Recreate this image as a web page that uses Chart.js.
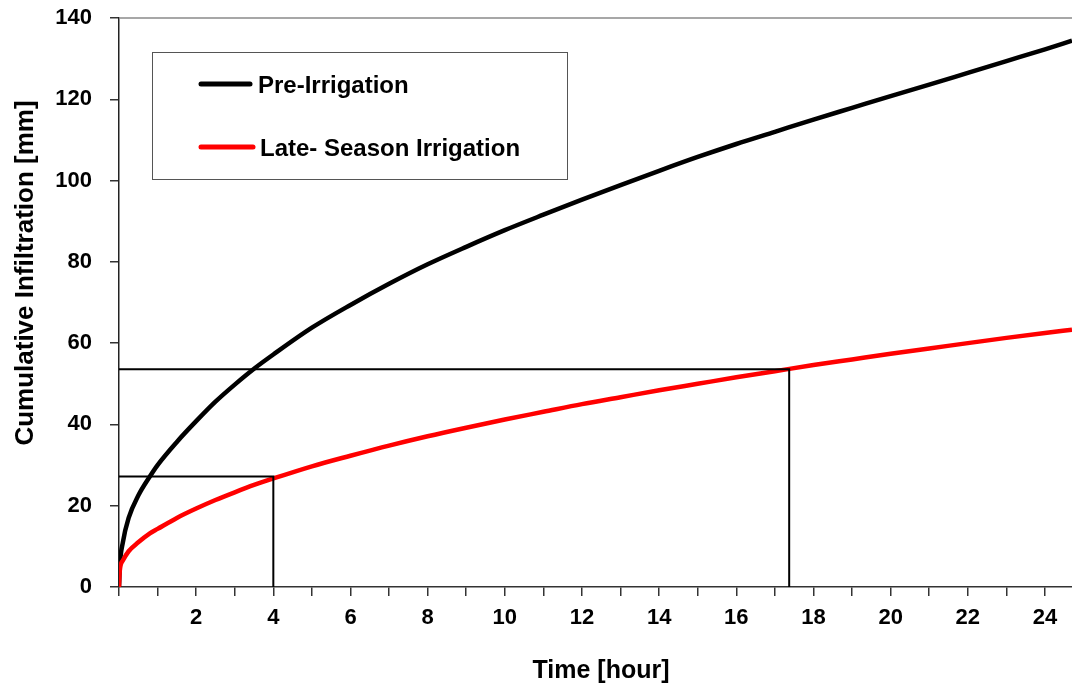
<!DOCTYPE html>
<html>
<head>
<meta charset="utf-8">
<script src="https://cdn.jsdelivr.net/npm/chart.js@4"></script>
<style>
  html, body { margin: 0; padding: 0; background: #fff; }
  #chart { display: block; }
</style>
</head>
<body>
<canvas id="chart" width="1072" height="685"></canvas>
<script>
// time axis (hours) shared by both curves
const timeHours = [0, 0.02, 0.1, 0.25, 0.5, 0.8, 1, 1.5, 2, 2.5, 3, 3.5, 4, 5, 6, 7, 8, 9, 10, 11, 12,
  13, 14, 15, 16, 17, 18, 19, 20, 21, 22, 23, 24, 24.7];
// cumulative infiltration [mm]
const preIrrigation = [0, 5, 11, 17, 22.5, 27.2, 30, 35.7, 40.8, 45.6, 49.8, 53.7, 57.2, 63.8, 69.4, 74.6,
  79.4, 83.7, 87.8, 91.6, 95.3, 98.9, 102.4, 105.8, 109, 112, 115, 117.9, 120.8, 123.6, 126.5, 129.4, 132.3, 134.4];
const lateSeason = [0, 4, 6.5, 8.8, 11, 13.2, 14.3, 17, 19.3, 21.4, 23.3, 25.1, 26.7, 29.7, 32.3, 34.8,
  37.1, 39.2, 41.2, 43.1, 45, 46.7, 48.4, 50, 51.6, 53.1, 54.6, 56, 57.4, 58.7, 60, 61.3, 62.5, 63.3];

// guide lines from the figure
const guideEarly = [[0, 27.2], [4, 27.2], [4, 0]];
const guideLate = [[0, 53.6], [17.37, 53.6], [17.37, 0]];

const yTicks = [0, 20, 40, 60, 80, 100, 120, 140];
const xLabelTicks = [2, 4, 6, 8, 10, 12, 14, 16, 18, 20, 22, 24];

const seriesNames = ["Pre-Irrigation", "Late- Season Irrigation"];
const seriesColors = ["#000000", "#ff0000"];

const toPoints = (xs, ys) => xs.map((x, i) => ({ x, y: ys[i] }));
const pairPoints = (pairs) => pairs.map(([x, y]) => ({ x, y }));

Chart.defaults.font.family = "'Liberation Sans', Arial, sans-serif";
Chart.defaults.color = "#000";

const FONT = "'Liberation Sans', Arial, sans-serif";

const decorPlugin = {
  id: "decor",
  afterDraw(chart) {
    const { ctx, chartArea } = chart;
    ctx.save();

    // top frame line
    ctx.strokeStyle = "#8a8a8a";
    ctx.lineWidth = 1.5;
    ctx.beginPath();
    ctx.moveTo(chartArea.left, chartArea.top);
    ctx.lineTo(chartArea.right, chartArea.top);
    ctx.stroke();

    // legend box
    ctx.strokeStyle = "#555";
    ctx.lineWidth = 1;
    ctx.fillStyle = "#fff";
    ctx.fillRect(152.5, 52.5, 415, 127);
    ctx.strokeRect(152.5, 52.5, 415, 127);

    const rows = [
      { y: 84, x1: 201, x2: 250, tx: 258 },
      { y: 147, x1: 201, x2: 253, tx: 260 },
    ];
    rows.forEach((r, i) => {
      ctx.strokeStyle = seriesColors[i];
      ctx.lineWidth = 5;
      ctx.lineCap = "round";
      ctx.beginPath();
      ctx.moveTo(r.x1, r.y);
      ctx.lineTo(r.x2, r.y);
      ctx.stroke();
      ctx.fillStyle = "#000";
      ctx.font = "bold 24px " + FONT;
      ctx.textBaseline = "middle";
      ctx.textAlign = "left";
      ctx.fillText(seriesNames[i], r.tx, r.y + 2);
    });

    // axis titles
    ctx.fillStyle = "#000";
    ctx.font = "bold 25px " + FONT;
    ctx.textBaseline = "alphabetic";
    ctx.textAlign = "center";
    ctx.fillText("Time [hour]", 601, 678);

    ctx.font = "bold 26px " + FONT;
    ctx.translate(33, 273);
    ctx.rotate(-Math.PI / 2);
    ctx.fillText("Cumulative Infiltration [mm]", 0, 0);

    ctx.restore();
  },
};

const ctx = document.getElementById("chart").getContext("2d");
new Chart(ctx, {
  type: "scatter",
  data: {
    datasets: [
      {
        label: "guideEarly",
        data: pairPoints(guideEarly),
        showLine: true,
        borderColor: "#000",
        borderWidth: 2,
        pointRadius: 0,
        tension: 0,
      },
      {
        label: "guideLate",
        data: pairPoints(guideLate),
        showLine: true,
        borderColor: "#000",
        borderWidth: 2,
        pointRadius: 0,
        tension: 0,
      },
      {
        label: seriesNames[1],
        data: toPoints(timeHours, lateSeason),
        showLine: true,
        borderColor: seriesColors[1],
        borderWidth: 4.5,
        pointRadius: 0,
        cubicInterpolationMode: "monotone",
      },
      {
        label: seriesNames[0],
        data: toPoints(timeHours, preIrrigation),
        showLine: true,
        borderColor: seriesColors[0],
        borderWidth: 4.5,
        pointRadius: 0,
        cubicInterpolationMode: "monotone",
      },
    ],
  },
  options: {
    responsive: false,
    animation: false,
    layout: { padding: { top: 18, right: 0, left: 0, bottom: 0 } },
    plugins: {
      legend: { display: false },
      tooltip: { enabled: false },
    },
    scales: {
      x: {
        type: "linear",
        min: 0,
        max: 24.7,
        afterFit: (scale) => {
          scale.height = 98;
          scale.paddingLeft = 0;
          scale.paddingRight = 0;
        },
        border: { display: true, color: "#333", width: 1.5 },
        grid: { drawOnChartArea: false, drawTicks: true, tickLength: 9, color: "#333", lineWidth: 1.5 },
        ticks: {
          stepSize: 1,
          autoSkip: false,
          includeBounds: false,
          maxRotation: 0,
          padding: 9,
          color: "#000",
          font: { size: 22, weight: "bold" },
          callback: (v) => (xLabelTicks.includes(v) ? String(v) : ""),
        },
      },
      y: {
        type: "linear",
        min: 0,
        max: 140,
        afterFit: (scale) => {
          scale.width = 119;
          scale.paddingTop = 0;
          scale.paddingBottom = 0;
        },
        afterBuildTicks: (scale) => { scale.ticks = yTicks.map((v) => ({ value: v })); },
        border: { display: true, color: "#222", width: 1.5 },
        grid: { drawOnChartArea: false, drawTicks: true, tickLength: 9, color: "#333", lineWidth: 1.5 },
        ticks: {
          padding: 18,
          color: "#000",
          font: { size: 22, weight: "bold" },
        },
      },
    },
  },
  plugins: [decorPlugin],
});
</script>
</body>
</html>
